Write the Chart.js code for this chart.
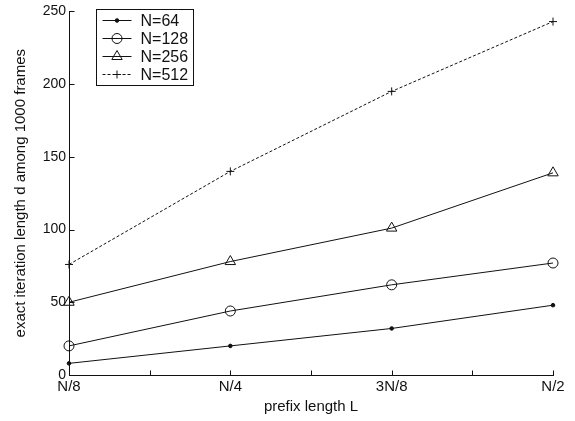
<!DOCTYPE html>
<html lang="en">
<head>
<meta charset="UTF-8">
<title>Exact iteration length vs prefix length</title>
<script src="https://cdn.jsdelivr.net/npm/chart.js"></script>
<style>
  body { margin: 0; background: #fff; }
  canvas { display: block; }
</style>
</head>
<body>
<canvas id="chart" width="575" height="421"></canvas>
<script>
// values
const prefixLabels = ['N/8', 'N/4', '3N/8', 'N/2'];
const yTicks = [0, 50, 100, 150, 200, 250];
const seriesNames = ['N=64', 'N=128', 'N=256', 'N=512'];
const n64 = [8, 20, 32, 48];
const n128 = [20, 44, 62, 77];
const n256 = [50, 78, 101, 139];
const n512 = [76, 140, 195, 243];

const ink = '#111';
const fontFamily = '"Liberation Sans", Arial, Helvetica, sans-serif';

// MATLAB style ticks pointing into the plot, with minor ticks on x
const inwardTicks = {
    id: 'inwardTicks',
    afterDatasetsDraw(chart) {
        const {ctx, chartArea, scales: {x, y}} = chart;
        const bottom = Math.round(chart.chartArea.bottom) + 0.5;
        const left = Math.round(chartArea.left) + 0.5;
        ctx.save();
        ctx.strokeStyle = ink;
        ctx.lineWidth = 1;
        ctx.beginPath();
        const xs = x.ticks.map((t, i) => x.getPixelForTick(i));
        xs.forEach((px, i) => {
            const p = Math.round(px) + 0.5;
            ctx.moveTo(p, bottom);
            ctx.lineTo(p, bottom - 5);
            if (i < xs.length - 1) {
                const m = Math.round((px + xs[i + 1]) / 2) + 0.5;
                ctx.moveTo(m, bottom);
                ctx.lineTo(m, bottom - 5);
            }
        });
        y.ticks.forEach(t => {
            const py = Math.round(y.getPixelForValue(t.value)) + 0.5;
            ctx.moveTo(left, py);
            ctx.lineTo(left + 5, py);
        });
        ctx.stroke();
        ctx.restore();
    }
};

// boxed legend in the upper left of the axes
const boxLegend = {
    id: 'boxLegend',
    afterDraw(chart) {
        const {ctx} = chart;
        const left = 96.5, top = 9.5, width = 97, height = 76, rowH = 18;
        ctx.save();
        ctx.fillStyle = '#fff';
        ctx.fillRect(left, top, width, height);
        ctx.strokeStyle = ink;
        ctx.lineWidth = 1;
        ctx.strokeRect(left, top, width, height);
        chart.data.datasets.forEach((ds, i) => {
            const cy = Math.round(top + 10 + i * rowH) + 0.5;
            ctx.strokeStyle = ds.borderColor;
            ctx.lineWidth = ds.borderWidth;
            ctx.setLineDash(ds.borderDash || []);
            ctx.beginPath();
            ctx.moveTo(left + 6, cy);
            ctx.lineTo(left + 35, cy);
            ctx.stroke();
            ctx.setLineDash([]);
            ctx.fillStyle = ds.pointBackgroundColor;
            ctx.strokeStyle = ds.pointBorderColor;
            ctx.lineWidth = 1;
            Chart.helpers.drawPoint(ctx, {
                pointStyle: ds.pointStyle,
                radius: ds.pointRadius,
                rotation: 0,
                borderWidth: 1
            }, left + 20.5, cy);
            ctx.fillStyle = ink;
            ctx.font = '16px ' + fontFamily;
            ctx.textBaseline = 'middle';
            ctx.textAlign = 'left';
            ctx.fillText(ds.label, left + 44, cy + 1);
        });
        ctx.restore();
    }
};

function series(label, values, style, radius, fill, dash) {
    return {
        label: label,
        data: values,
        borderColor: ink,
        borderWidth: 1,
        borderDash: dash,
        pointStyle: style,
        pointRadius: radius,
        pointBorderColor: ink,
        pointBackgroundColor: fill,
        pointBorderWidth: 1,
        tension: 0
    };
}

new Chart(document.getElementById('chart'), {
    type: 'line',
    data: {
        labels: prefixLabels,
        datasets: [
            series(seriesNames[0], n64, 'circle', 1.8, ink, []),
            series(seriesNames[1], n128, 'circle', 5, 'rgba(0,0,0,0)', []),
            series(seriesNames[2], n256, 'triangle', 6, 'rgba(0,0,0,0)', []),
            series(seriesNames[3], n512, 'cross', 4, 'rgba(0,0,0,0)', [3, 2])
        ]
    },
    options: {
        responsive: false,
        animation: false,
        layout: { padding: { top: 8, right: 22, left: 0, bottom: 0 } },
        plugins: {
            legend: { display: false },
            tooltip: { enabled: false }
        },
        scales: {
            x: {
                type: 'category',
                offset: false,
                afterFit(scale) { scale.height = 46; },
                grid: { display: true, drawOnChartArea: false, drawTicks: false },
                border: { display: true, color: ink, width: 1 },
                ticks: {
                    color: ink,
                    padding: 3,
                    maxRotation: 0,
                    autoSkip: false,
                    font: { family: fontFamily, size: 15 }
                },
                title: {
                    display: true,
                    text: 'prefix length L',
                    color: ink,
                    padding: { top: 0, bottom: 5 },
                    font: { family: fontFamily, size: 15 }
                }
            },
            y: {
                min: yTicks[0],
                max: yTicks[yTicks.length - 1],
                afterFit(scale) { scale.width = 69; },
                afterBuildTicks(scale) { scale.ticks = yTicks.map(v => ({ value: v })); },
                grid: { display: true, drawOnChartArea: false, drawTicks: false },
                border: { display: true, color: ink, width: 1 },
                ticks: {
                    color: ink,
                    padding: 3,
                    font: { family: fontFamily, size: 14 }
                },
                title: {
                    display: true,
                    text: 'exact iteration length d among 1000 frames',
                    color: ink,
                    padding: { top: 12, bottom: 0 },
                    font: { family: fontFamily, size: 15 }
                }
            }
        }
    },
    plugins: [inwardTicks, boxLegend]
});
</script>
</body>
</html>
